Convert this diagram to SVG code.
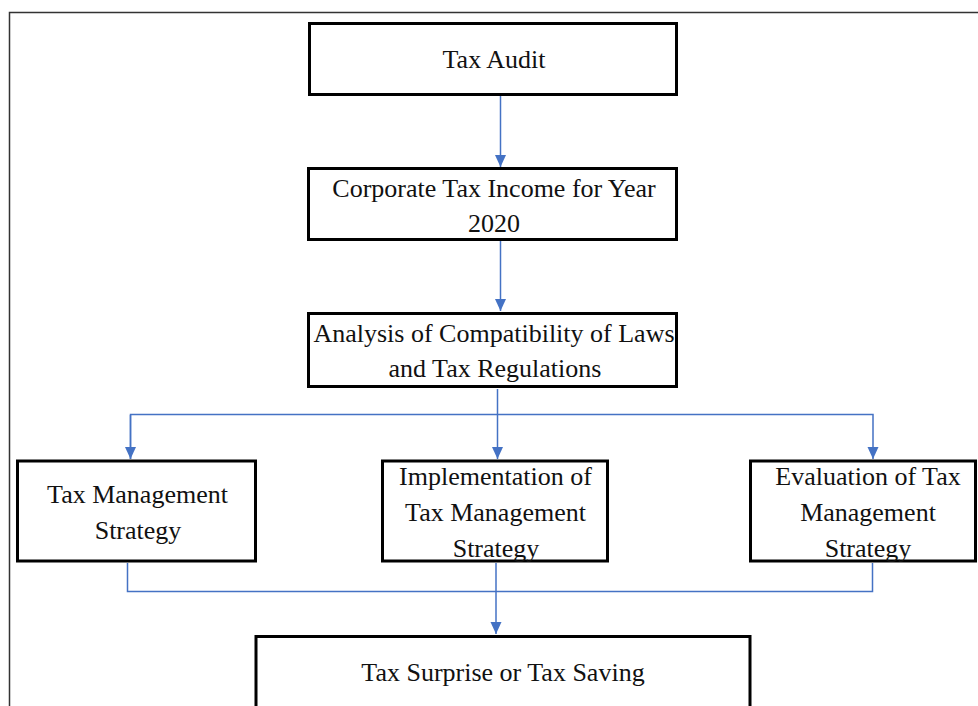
<svg xmlns="http://www.w3.org/2000/svg" width="978" height="706" viewBox="0 0 978 706">
  <defs>
    <marker id="arrow" markerUnits="userSpaceOnUse" markerWidth="12" markerHeight="12" viewBox="0 0 12 12" refX="12" refY="6" orient="auto">
      <path d="M0,0.5 L12,6 L0,11.5 Z" fill="#4472C4"/>
    </marker>
    <style>
      .frame { fill: none; stroke: #333; stroke-width: 1.5; }
      .box { fill: #fff; stroke: #000; stroke-width: 3; }
      .lbl { font-family: "Liberation Serif", "Times New Roman", serif; font-size: 26px; fill: #111; text-anchor: middle; }
      .link { fill: none; stroke: #4472C4; stroke-width: 1.5; }
    </style>
  </defs>
  <rect width="978" height="706" fill="#fff"/>

  <!-- outer frame, continues past the right and bottom edges -->
  <path class="frame" d="M9.5,720 V12.5 H990"/>

  <g id="connectors">
    <line class="link" x1="500.5" y1="96" x2="500.5" y2="167" marker-end="url(#arrow)"/>
    <line class="link" x1="500.5" y1="241" x2="500.5" y2="311" marker-end="url(#arrow)"/>
    <!-- fan-out to the three strategy boxes -->
    <path class="link" d="M497.5,389 V414.5"/>
    <path class="link" d="M130.5,459 V414.5 H873 V459" marker-end="url(#arrow)" />
    <line class="link" x1="130.5" y1="415" x2="130.5" y2="459" marker-end="url(#arrow)"/>
    <line class="link" x1="497.5" y1="414" x2="497.5" y2="459" marker-end="url(#arrow)"/>
    <!-- merge into the outcome box -->
    <path class="link" d="M127.5,563 V591.5 H872.5 V563"/>
    <line class="link" x1="496" y1="563" x2="496" y2="634" marker-end="url(#arrow)"/>
  </g>

  <g id="tax-audit">
    <rect class="box" x="309.5" y="23.5" width="367" height="71"/>
    <text class="lbl" x="494" y="68">Tax Audit</text>
  </g>

  <g id="corporate-tax-income">
    <rect class="box" x="308.5" y="168.5" width="368" height="71"/>
    <text class="lbl" x="494" y="197">Corporate Tax Income for Year</text>
    <text class="lbl" x="494" y="232">2020</text>
  </g>

  <g id="compatibility-analysis">
    <rect class="box" x="308.5" y="313.5" width="368" height="73"/>
    <text class="lbl" x="494" y="342">Analysis of Compatibility of Laws</text>
    <text class="lbl" x="495" y="377">and Tax Regulations</text>
  </g>

  <g id="tax-management-strategy">
    <rect class="box" x="17.5" y="461" width="238" height="100"/>
    <text class="lbl" x="137.5" y="503">Tax Management</text>
    <text class="lbl" x="138" y="539">Strategy</text>
  </g>

  <g id="implementation">
    <rect class="box" x="382.5" y="461" width="225" height="100"/>
    <text class="lbl" x="495.5" y="485">Implementation of</text>
    <text class="lbl" x="495.5" y="521">Tax Management</text>
    <text class="lbl" x="496" y="557">Strategy</text>
  </g>

  <g id="evaluation">
    <rect class="box" x="750.5" y="461" width="225" height="100"/>
    <text class="lbl" x="868" y="485">Evaluation of Tax</text>
    <text class="lbl" x="868" y="521">Management</text>
    <text class="lbl" x="868" y="557">Strategy</text>
  </g>

  <g id="tax-surprise-or-saving">
    <rect class="box" x="256" y="636.5" width="494" height="90"/>
    <text class="lbl" x="503" y="681">Tax Surprise or Tax Saving</text>
  </g>
</svg>
